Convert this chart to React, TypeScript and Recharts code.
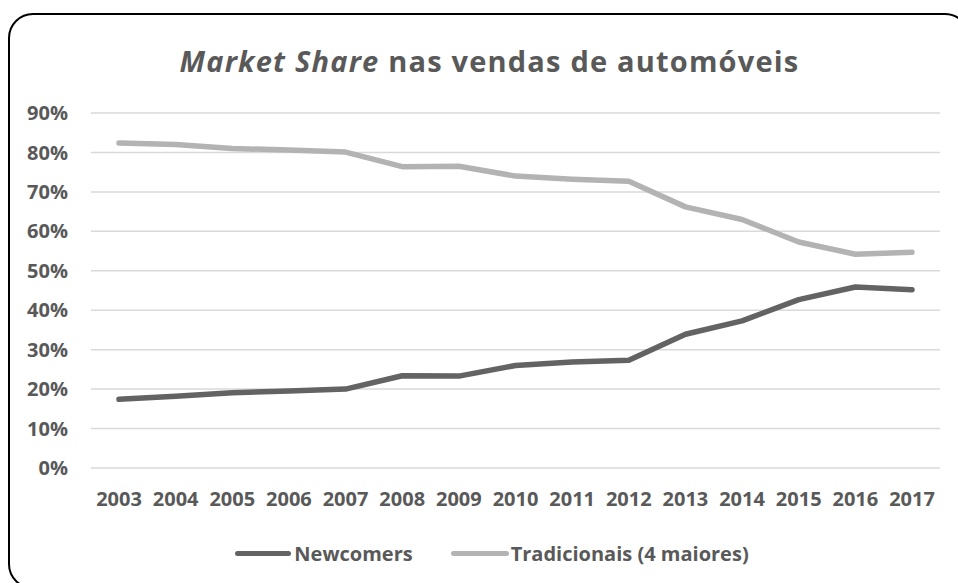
import React from "react";
import { LineChart, Line, XAxis, YAxis, CartesianGrid, Legend } from "recharts";

const years = ["2003","2004","2005","2006","2007","2008","2009","2010","2011","2012","2013","2014","2015","2016","2017"];
const newcomers = [0.174,0.182,0.191,0.195,0.200,0.234,0.233,0.260,0.269,0.273,0.339,0.373,0.427,0.459,0.452];
const tradicionais = [0.824,0.820,0.810,0.806,0.801,0.764,0.765,0.740,0.732,0.727,0.662,0.630,0.573,0.542,0.547];
const yTicks = [0,0.1,0.2,0.3,0.4,0.5,0.6,0.7,0.8,0.9];

const data = years.map((y, i) => ({ year: y, newcomers: newcomers[i], tradicionais: tradicionais[i] }));

const FONT = "'Open Sans', sans-serif";
const TEXT = "#595959";
const DARK = "#636363";
const LIGHT = "#b3b3b3";

const LegendContent = () => (
  <div style={{ display: "flex", justifyContent: "center", alignItems: "center", height: 40, paddingLeft: 26, boxSizing: "border-box", fontFamily: FONT, fontWeight: 700, fontSize: 20, color: TEXT }}>
    <div style={{ display: "flex", alignItems: "center", marginRight: 38 }}>
      <div style={{ width: 56, height: 5, borderRadius: 3, background: DARK, marginRight: 3 }} />
      <span>Newcomers</span>
    </div>
    <div style={{ display: "flex", alignItems: "center" }}>
      <div style={{ width: 58, height: 5, borderRadius: 3, background: LIGHT, marginRight: 2 }} />
      <span>Tradicionais (4 maiores)</span>
    </div>
  </div>
);

export default function App() {
  return (
    <div style={{ position: "absolute", left: 0, top: 0, width: 958, height: 583, overflow: "hidden", background: "#fff" }}>
      <div style={{ position: "absolute", left: 8, top: 13, width: 962, height: 576, border: "2px solid #000", borderRadius: 25, boxSizing: "border-box" }} />
      <div style={{ position: "absolute", left: 0, width: 979, top: 41, textAlign: "center", fontFamily: FONT, fontWeight: 700, fontSize: 29, letterSpacing: 1.2, color: TEXT, lineHeight: "40px" }}>
        <span style={{ fontStyle: "italic" }}>Market Share</span> nas vendas de automóveis
      </div>
      <LineChart width={958} height={583} data={data} margin={{ top: 113, right: 18, left: 0, bottom: 15 }}>
        <CartesianGrid vertical={false} stroke="#d9d9d9" strokeWidth={1.5} />
        <XAxis dataKey="year" axisLine={false} tickLine={false} tickSize={0} tickMargin={24} height={60} interval={0}
          padding={{ left: 28, right: 28 }}
          tick={{ fill: TEXT, fontFamily: FONT, fontWeight: 700, fontSize: 20 }} />
        <YAxis domain={[0, 0.9]} ticks={yTicks} width={91} axisLine={false} tickLine={false} tickSize={0} tickMargin={23}
          tickFormatter={(v: number) => `${Math.round(v * 100)}%`}
          tick={{ fill: TEXT, fontFamily: FONT, fontWeight: 700, fontSize: 20 }} />
        <Legend verticalAlign="bottom" content={<LegendContent />} wrapperStyle={{ left: 0, width: 958, height: 40, top: 533 }} />
        <Line dataKey="newcomers" name="Newcomers" stroke={DARK} strokeWidth={5.5} dot={false} strokeLinecap="round" strokeLinejoin="round" isAnimationActive={false} />
        <Line dataKey="tradicionais" name="Tradicionais (4 maiores)" stroke={LIGHT} strokeWidth={5.5} dot={false} strokeLinecap="round" strokeLinejoin="round" isAnimationActive={false} />
      </LineChart>
    </div>
  );
}
